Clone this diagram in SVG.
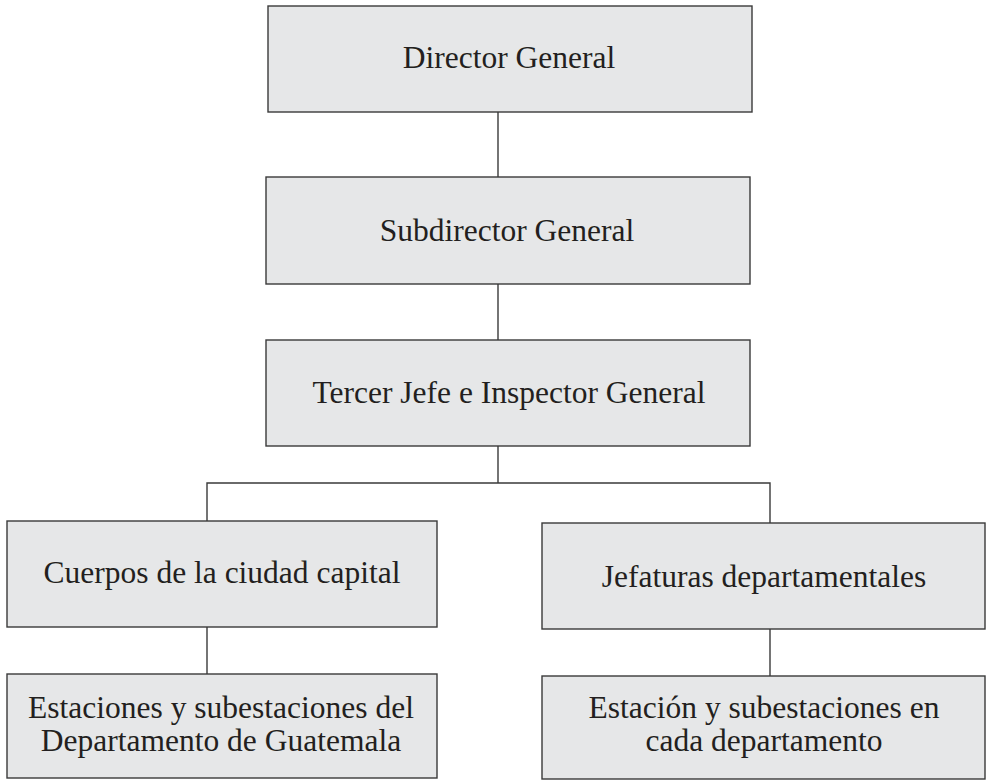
<svg xmlns="http://www.w3.org/2000/svg" width="987" height="780" viewBox="0 0 987 780">
<style>
.box{fill:#e6e7e8;stroke:#3a3a3a;stroke-width:1.4}
.lbl{font-family:"Liberation Serif","Times New Roman",serif;font-size:31.5px;fill:#231f20;text-anchor:middle}
.con{fill:none;stroke:#3a3a3a;stroke-width:1.4}
</style>
<rect width="987" height="780" fill="#ffffff"/>
<g id="connectors">
<line class="con" x1="498" y1="112" x2="498" y2="177"/>
<line class="con" x1="498" y1="284" x2="498" y2="340"/>
<line class="con" x1="498" y1="446" x2="498" y2="483"/>
<polyline class="con" points="207,521 207,483 770,483 770,523"/>
<line class="con" x1="207" y1="627" x2="207" y2="674"/>
<line class="con" x1="770" y1="629" x2="770" y2="676"/>
</g>
<g id="director">
<rect class="box" x="268" y="6" width="484" height="106"/>
<text class="lbl" x="509" y="68">Director General</text>
</g>
<g id="subdirector">
<rect class="box" x="266" y="177" width="484" height="107"/>
<text class="lbl" x="507" y="241">Subdirector General</text>
</g>
<g id="tercer-jefe">
<rect class="box" x="266" y="340" width="484" height="106"/>
<text class="lbl" x="509" y="403">Tercer Jefe e Inspector General</text>
</g>
<g id="cuerpos">
<rect class="box" x="7" y="521" width="430" height="106"/>
<text class="lbl" x="222" y="583">Cuerpos de la ciudad capital</text>
</g>
<g id="jefaturas">
<rect class="box" x="542" y="523" width="443" height="106"/>
<text class="lbl" x="764" y="587">Jefaturas departamentales</text>
</g>
<g id="estaciones-guatemala">
<rect class="box" x="7" y="674" width="430" height="104"/>
<text class="lbl" x="221" y="718">Estaciones y subestaciones del</text>
<text class="lbl" x="221" y="751">Departamento de Guatemala</text>
</g>
<g id="estacion-departamento">
<rect class="box" x="542" y="676" width="443" height="103"/>
<text class="lbl" x="764" y="718">Estación y subestaciones en</text>
<text class="lbl" x="764" y="751">cada departamento</text>
</g>
</svg>
